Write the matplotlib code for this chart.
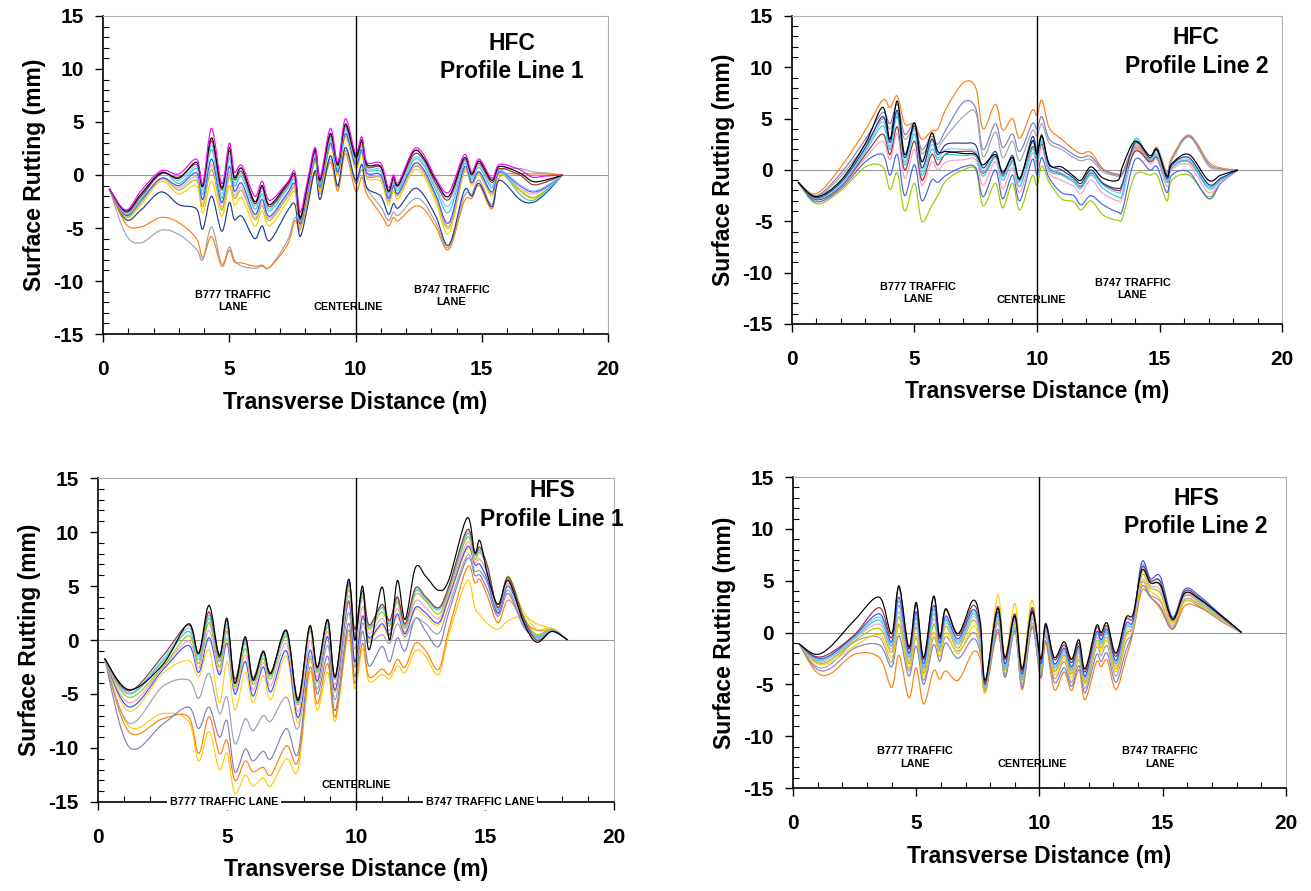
import numpy as np
import matplotlib.pyplot as plt
from matplotlib.path import Path
from matplotlib.patches import PathPatch
from matplotlib.ticker import MultipleLocator

plt.rcParams['font.family'] = ['Liberation Sans', 'DejaVu Sans']
plt.rcParams['font.weight'] = 'bold'
plt.rcParams['axes.unicode_minus'] = False

# ---------------- HFC Profile Line 1 ----------------
hfc1_x = [0.25, 0.9, 1.5, 2.3, 3.0, 3.7, 3.95, 4.3, 4.7, 5.0, 5.2, 5.5, 6.0, 6.3, 6.6,
          7.3, 7.6, 7.8, 8.1, 8.4, 8.6, 9.0, 9.3, 9.6, 10.0, 10.25, 10.45, 11.0, 11.3,
          11.5, 11.7, 12.3, 12.7, 13.2, 13.7, 14.3, 14.6, 14.9, 15.4, 15.7, 16.5, 17.0,
          17.5, 18.2]
hfc1_gray = [-1.3, -5.6, -6.4, -5.2, -5.6, -7.0, -8.0, -4.9, -8.4, -6.8, -8.0, -8.6, -8.8, -8.6, -8.7,
             -6.2, -4.0, -5.0, -2.2, 0.4, -1.5, 1.5, -1.2, 2.3, -0.8, 0.5, -1.3, -3.0, -4.3,
             -3.5, -3.8, -2.3, -2.6, -4.6, -6.8, -2.0, -1.8, -0.5, -2.8, 0.3, 0.6, 0.3, 0.2, 0.0]
hfc1_orange = [-1.3, -4.6, -4.9, -4.0, -4.5, -6.0, -7.8, -5.8, -8.6, -7.1, -8.2, -8.3, -8.6, -8.5, -8.7,
               -6.6, -4.3, -5.2, -2.5, 0.2, -1.8, 1.2, -1.5, 2.0, -1.5, -0.2, -1.8, -3.7, -4.8,
               -4.0, -4.3, -3.0, -3.2, -5.0, -7.0, -2.5, -2.2, -1.0, -3.2, -0.2, 0.1, 0.1, 0.1, 0.0]
hfc1_navy = [-1.3, -4.2, -3.3, -1.6, -2.8, -3.2, -5.1, -2.0, -5.3, -2.6, -4.2, -3.9, -6.0, -4.8, -6.2,
             -3.4, -2.8, -5.8, -3.0, 0.4, -2.3, 1.8, -1.0, 2.6, -0.5, 1.0, -1.2, -2.0, -3.7,
             -2.7, -3.1, -1.3, -1.9, -4.0, -6.6, -1.5, -2.0, -0.8, -3.0, -0.5, -2.3, -2.6, -1.8, 0.0]
hfc1_gold = [-1.3, -4.0, -2.8, -0.6, -1.8, -1.0, -3.6, -0.6, -3.9, -1.0, -2.8, -2.2, -4.8, -3.4, -4.8,
             -2.5, -1.6, -5.0, -2.0, 1.2, -1.5, 2.6, -0.1, 3.5, 0.6, 2.0, -0.3, -0.6, -2.8,
             -1.5, -2.2, 0.4, -0.1, -2.7, -5.5, 0.2, -1.0, 0.0, -2.0, 0.1, -1.5, -2.2, -1.6, 0.0]
hfc1_lime = [-1.3, -3.9, -2.6, -0.4, -1.4, -0.5, -3.0, 0.5, -3.3, -0.2, -2.2, -1.5, -4.2, -2.9, -4.3,
             -2.1, -1.3, -4.8, -1.8, 1.4, -1.3, 2.8, 0.1, 3.7, 0.8, 2.2, -0.1, -0.3, -2.5,
             -1.2, -1.9, 0.7, 0.2, -2.3, -5.0, 0.4, -0.8, 0.2, -1.8, 0.2, -1.4, -2.1, -1.5, 0.0]
hfc1_pink = [-1.3, -3.85, -2.5, -0.35, -1.2, -0.2, -2.7, 1.0, -3.0, 0.3, -1.9, -1.2, -4.0, -2.6, -4.1,
             -1.9, -1.1, -4.7, -1.7, 1.5, -1.2, 2.9, 0.2, 3.8, 0.9, 2.3, 0.0, -0.2, -2.4,
             -1.1, -1.8, 0.8, 0.3, -2.1, -4.8, 0.5, -0.8, 0.2, -1.7, 0.2, -1.2, -1.8, -1.3, 0.0]
hfc1_blue = [-1.3, -3.8, -2.4, -0.3, -1.0, 0.2, -2.3, 1.5, -2.6, 0.8, -1.5, -0.8, -3.7, -2.3, -3.9,
             -1.7, -0.9, -4.6, -1.6, 1.6, -1.1, 3.0, 0.3, 3.9, 1.0, 2.4, 0.2, 0.0, -2.2,
             -1.0, -1.7, 1.0, 0.5, -2.0, -4.5, 0.7, -0.7, 0.3, -1.6, 0.3, -1.0, -1.6, -1.2, 0.0]
hfc1_cyan = [-1.3, -3.7, -2.3, 0.3, -0.8, 0.6, -1.8, 2.4, -2.2, 1.6, -1.0, -0.2, -3.2, -1.8, -3.4,
             -1.3, -0.6, -4.4, -1.3, 1.8, -0.9, 3.3, 0.6, 4.2, 1.3, 2.7, 0.5, 0.3, -2.0,
             -0.8, -1.4, 1.4, 0.9, -1.5, -3.5, 1.0, -0.4, 0.7, -1.2, 0.5, -1.8, -2.4, -1.6, 0.0]
hfc1_lightblue = [-1.3, -3.6, -2.1, 0.2, -0.5, 0.8, -1.4, 2.8, -1.8, 2.0, -0.7, 0.1, -2.9, -1.5, -3.2,
                  -1.1, -0.4, -4.3, -1.1, 2.0, -0.7, 3.5, 0.7, 4.4, 1.4, 2.9, 0.6, 0.5, -1.8,
                  -0.6, -1.2, 1.6, 1.1, -1.2, -2.9, 1.2, -0.2, 0.9, -1.0, 0.5, -0.9, -1.5, -1.1, 0.0]
hfc1_red = [-1.3, -3.5, -2.0, 0.1, -0.2, 1.0, -1.1, 3.2, -1.4, 2.3, -0.4, 0.3, -2.7, -1.2, -3.0,
            -1.0, -0.2, -4.2, -1.0, 2.2, -0.6, 3.7, 0.9, 4.6, 1.6, 3.1, 0.8, 0.7, -1.6,
            -0.4, -1.0, 1.9, 1.4, -0.9, -2.3, 1.4, 0.0, 1.1, -0.7, 0.6, 0.0, -0.9, -0.7, 0.0]
hfc1_black = [-1.3, -3.4, -1.8, 0.2, -0.3, 1.2, -1.0, 3.5, -1.2, 2.6, -0.2, 0.6, -2.5, -1.0, -2.8,
              -0.8, 0.0, -4.0, -0.8, 2.4, -0.4, 3.9, 1.0, 4.8, 1.8, 3.3, 1.0, 0.8, -1.5,
              -0.2, -0.9, 2.2, 1.6, -0.6, -2.0, 1.6, 0.1, 1.3, -0.5, 0.8, 0.2, -0.6, -0.5, 0.0]
hfc1_magenta = [-1.3, -3.3, -1.5, 0.4, 0.1, 1.5, -0.8, 4.4, -0.8, 3.0, 0.3, 0.9, -2.0, -0.6, -2.4,
                -0.7, 0.3, -3.5, -0.5, 2.6, -0.2, 4.4, 1.2, 5.3, 2.1, 3.6, 1.2, 1.1, -1.2,
                0.0, -0.7, 2.4, 1.9, -0.4, -1.6, 1.9, 0.3, 1.5, -0.3, 1.0, 0.5, -0.2, -0.1, 0.0]

# ---------------- HFC Profile Line 2 ----------------
hfc2_x = [0.25, 1.0, 2.0, 3.0, 3.7, 4.0, 4.3, 4.6, 5.0, 5.3, 5.7, 5.95, 6.3, 7.0, 7.5, 7.8,
          8.3, 8.6, 9.0, 9.3, 9.8, 10.0, 10.2, 10.5, 11.0, 11.5, 11.8, 12.2, 12.7, 13.3,
          13.5, 14.0, 14.6, 14.9, 15.3, 15.5, 16.2, 17.0, 17.5, 18.2]
hfc2_orange = [-1.2, -2.3, 0.3, 3.9, 6.8, 6.1, 7.2, 4.5, 4.5, 3.0, 3.8, 4.0, 6.0, 8.5, 8.0, 4.0,
               6.4, 3.9, 5.0, 3.1, 5.8, 5.3, 6.8, 4.1, 3.0, 2.0, 1.6, 1.7, 0.1, -0.4,
               -0.2, 2.4, 1.2, 2.2, -0.2, 1.2, 3.4, 0.8, 0.2, 0.0]
hfc2_slate = [-1.2, -2.5, -0.3, 3.0, 5.6, 4.5, 6.4, 3.5, 4.5, 2.0, 3.3, 2.5, 4.0, 6.6, 6.0, 2.0,
              4.5, 2.2, 3.5, 1.8, 4.5, 4.0, 5.2, 3.0, 2.3, 1.5, 1.2, 1.3, 0.0, -0.5,
              -0.3, 2.2, 1.0, 2.0, -0.4, 1.0, 3.3, 0.6, 0.1, 0.0]
hfc2_gray = [-1.2, -2.6, -0.6, 2.5, 5.0, 4.0, 5.5, 3.0, 4.0, 1.6, 2.8, 2.2, 3.3, 5.2, 5.6, 1.3,
             3.7, 1.2, 2.8, 0.9, 3.8, 3.3, 4.5, 2.6, 2.0, 1.2, 0.9, 1.0, -0.2, -0.6,
             -0.4, 2.0, 0.9, 1.9, -0.5, 0.9, 3.2, 0.4, 0.1, 0.0]
hfc2_lime = [-1.2, -3.3, -2.0, 0.3, 0.3, -1.9, -0.3, -4.0, -1.3, -5.0, -3.5, -2.5, -1.0, 0.0, 0.0, -3.5,
             -1.3, -3.7, -1.3, -3.9, -0.6, -1.5, 0.4, -1.2, -2.8, -3.1, -3.9, -3.0, -4.4, -4.9,
             -4.6, -0.5, -0.5, -0.5, -3.0, -1.0, -0.5, -2.6, -1.2, 0.0]
hfc2_royal = [-1.2, -3.1, -1.8, 0.8, 1.5, -0.5, 1.5, -2.5, 0.5, -3.0, -1.0, -1.2, -0.5, 0.3, 0.2, -2.6,
              0.0, -2.8, -0.5, -3.0, 1.0, -0.5, 1.2, -0.8, -2.2, -2.5, -3.4, -2.5, -3.4, -4.1,
              -3.8, 1.0, 0.0, 0.3, -2.2, -0.5, -0.2, -2.8, -1.3, 0.0]
hfc2_pink = [-1.2, -2.9, -1.7, 1.2, 2.8, 1.0, 3.5, -0.8, 2.0, -1.5, 0.8, 0.0, 0.8, 1.0, 1.0, -1.5,
             0.8, -1.8, 0.2, -2.2, 1.6, 0.4, 2.2, -0.3, -1.0, -1.6, -2.3, -1.0, -2.3, -3.0,
             -2.6, 2.0, 0.6, 1.0, -1.6, 0.0, 0.5, -2.2, -1.2, 0.0]
hfc2_red = [-1.2, -2.9, -1.6, 1.5, 3.5, 1.5, 4.2, 0.0, 2.8, -1.0, 1.5, 0.5, 1.6, 1.8, 1.6, -0.3,
            1.3, -0.6, 0.9, -1.0, 2.2, 1.2, 2.5, 0.2, -0.4, -1.0, -1.6, -0.3, -1.4, -2.0,
            -1.5, 1.8, 0.8, 1.2, -1.0, 0.3, 0.8, -1.6, -0.9, 0.0]
hfc2_teal = [-1.2, -2.8, -1.5, 1.8, 4.3, 2.0, 5.2, 0.5, 3.5, -0.5, 2.0, 1.0, 1.5, 1.4, 1.3, -0.6,
             1.2, -1.0, 0.7, -1.6, 2.0, 0.8, 2.8, 0.0, -0.5, -1.2, -1.8, -0.5, -1.8, -2.6,
             -2.2, 3.0, 1.0, 1.4, -1.2, 0.2, 0.8, -1.8, -1.0, 0.0]
hfc2_lightblue = [-1.2, -2.75, -1.4, 2.0, 4.7, 2.3, 5.5, 0.8, 3.9, -0.2, 2.5, 1.2, 2.0, 2.0, 1.8, -0.2,
                  1.5, -0.7, 1.0, -1.2, 2.6, 1.3, 3.1, 0.3, -0.3, -1.0, -1.5, -0.2, -1.5, -2.2,
                  -1.7, 2.8, 1.1, 1.6, -1.0, 0.3, 1.0, -1.6, -0.9, 0.0]
hfc2_blue = [-1.2, -2.7, -1.2, 2.2, 5.2, 2.7, 5.8, 1.2, 4.3, 0.2, 3.0, 1.5, 2.5, 2.6, 2.4, 0.2,
             1.8, -0.4, 1.4, -0.9, 3.2, 1.8, 3.4, 0.6, 0.0, -0.8, -1.3, 0.0, -1.3, -1.8,
             -1.2, 2.6, 1.2, 1.9, -0.8, 0.5, 1.2, -1.4, -0.8, 0.0]
hfc2_black = [-1.2, -2.6, -1.0, 2.6, 6.1, 3.0, 6.7, 1.5, 4.6, 0.8, 3.6, 1.8, 1.8, 1.6, 1.5, 0.5,
              1.5, -0.2, 1.2, -0.8, 2.8, 1.5, 3.3, 0.5, 0.3, -0.6, -1.0, 0.3, -0.8, -1.0,
              0.4, 2.8, 1.4, 2.0, -0.6, 0.6, 1.5, -1.0, -0.5, 0.0]

# ---------------- HFS Profile Line 1 ----------------
hfs1_x = [0.25, 1.2, 2.5, 3.5, 3.9, 4.3, 4.7, 5.0, 5.3, 5.7, 6.0, 6.4, 6.7, 7.3, 7.75, 8.2,
          8.5, 8.9, 9.2, 9.7, 9.95, 10.25, 10.5, 11.0, 11.3, 11.6, 11.9, 12.3, 12.7, 13.2,
          13.6, 14.3, 14.6, 14.8, 15.1, 15.5, 15.9, 16.5, 17.0, 17.6, 18.2]
hfs1_gold = [-1.7, -8.0, -6.8, -7.5, -11.2, -8.5, -12.0, -10.5, -14.2, -12.5, -13.5, -12.8, -13.5, -11.0, -12.0, -3.0,
             -6.5, -3.0, -7.5, 0.5, -4.5, -0.8, -3.8, -3.2, -3.6, -2.4, -3.0, -1.0, -1.5, -3.2,
             0.5, 5.5, 3.0, 2.3, 1.5, 1.0, 1.8, 2.2, 1.5, 1.0, 0.0]
hfs1_orange = [-1.7, -8.5, -7.3, -7.1, -10.5, -7.1, -10.5, -9.3, -13.0, -11.2, -12.2, -11.8, -12.5, -9.8, -11.2, -2.6,
               -5.9, -2.2, -7.1, 0.9, -4.0, -0.3, -3.4, -2.7, -3.2, -1.8, -2.5, -0.3, -1.0, -2.7,
               1.0, 6.7, 5.3, 5.6, 4.0, 1.6, 3.7, 1.8, 0.9, 0.9, 0.0]
hfs1_slate = [-1.7, -9.9, -7.8, -6.2, -8.2, -6.2, -9.0, -7.5, -12.2, -10.1, -11.2, -10.3, -11.0, -8.2, -10.5, -1.6,
              -5.0, -1.5, -6.5, 1.5, -3.4, 0.8, -2.4, -0.6, -2.0, 0.2, -1.0, 2.0, 0.8, -0.6,
              2.6, 7.5, 6.0, 6.0, 4.6, 2.2, 4.3, 1.2, 0.3, 0.8, 0.0]
hfs1_gray = [-1.7, -7.7, -4.3, -3.7, -5.4, -3.1, -6.8, -5.3, -9.6, -7.3, -8.4, -7.0, -7.5, -5.3, -8.2, -1.8,
             -4.5, -0.5, -5.5, 2.5, -2.5, 1.5, -0.2, 0.5, -0.3, 1.5, 0.3, 2.0, 1.5, 0.6,
             3.2, 7.8, 6.4, 6.4, 5.2, 2.4, 4.6, 1.4, 0.5, 0.9, 0.0]
hfs1_yellow = [-1.7, -6.6, -3.1, -1.9, -3.4, -0.9, -5.8, -2.0, -6.5, -3.0, -5.8, -3.3, -5.5, -1.5, -7.7, -1.5,
               -4.0, 0.3, -4.8, 3.4, -2.2, 2.0, 0.0, 1.3, 0.3, 2.2, 0.5, 2.8, 2.2, 1.4,
               3.8, 8.4, 7.2, 7.4, 6.2, 3.0, 5.2, 2.6, 1.0, 1.1, 0.0]
hfs1_blue = [-1.7, -6.2, -2.8, -0.5, -3.0, 0.2, -3.2, -0.3, -5.0, -2.0, -5.2, -2.5, -4.8, -1.0, -7.2, -1.0,
             -3.8, 0.3, -4.6, 3.6, -2.0, 2.2, 0.2, 1.5, 0.5, 2.4, 0.6, 3.0, 2.5, 1.6,
             4.0, 8.6, 7.0, 7.0, 5.5, 2.5, 5.0, 1.8, 0.2, 0.9, 0.0]
hfs1_pink = [-1.7, -5.8, -2.6, -0.1, -2.6, 0.9, -2.9, 0.2, -4.6, -1.4, -4.6, -2.1, -4.2, -0.3, -6.6, -0.1,
             -3.4, 0.8, -4.1, 4.1, -0.8, 3.1, 0.6, 2.0, 0.9, 2.9, 0.8, 3.6, 3.0, 2.0,
             4.3, 9.0, 7.2, 7.5, 6.0, 2.7, 5.3, 2.0, 0.4, 1.0, 0.0]
hfs1_lime = [-1.7, -5.3, -2.5, 0.4, -2.2, 1.6, -2.5, 0.8, -4.3, -0.8, -4.1, -1.7, -3.6, 0.3, -6.0, 0.8,
             -3.0, 1.2, -3.6, 4.6, 0.3, 4.0, 1.0, 2.6, 1.3, 3.5, 1.1, 4.2, 3.6, 2.4,
             4.6, 9.5, 7.5, 8.1, 6.6, 3.0, 5.9, 2.2, 0.5, 1.0, 0.0]
hfs1_teal = [-1.7, -5.0, -2.0, 0.8, -1.8, 2.0, -2.0, 1.2, -4.0, -0.3, -3.8, -1.4, -3.3, 0.5, -5.8, 1.0,
             -2.8, 1.5, -3.5, 5.0, 0.6, 4.3, 1.2, 3.0, 1.5, 3.8, 1.3, 4.5, 3.8, 2.8,
             4.8, 9.8, 7.8, 8.3, 6.5, 2.8, 5.6, 2.0, 0.3, 0.9, 0.0]
hfs1_lightblue = [-1.7, -4.9, -1.8, 1.1, -1.5, 2.3, -1.8, 1.5, -3.8, -0.1, -3.6, -1.2, -3.1, 0.6, -5.6, 1.1,
                  -2.7, 1.6, -3.4, 5.1, 0.8, 4.4, 1.3, 3.1, 1.6, 3.9, 1.4, 4.6, 3.9, 2.9,
                  4.9, 10.0, 7.9, 8.4, 6.6, 2.9, 5.7, 2.0, 0.2, 0.9, 0.0]
hfs1_red = [-1.7, -4.7, -1.5, 1.4, -1.3, 2.6, -1.6, 1.8, -3.6, 0.1, -3.5, -1.0, -3.0, 0.8, -5.4, 1.2,
            -2.6, 1.8, -3.3, 5.3, 1.0, 4.6, 1.4, 3.3, 1.8, 4.0, 1.5, 4.8, 4.0, 3.0,
            5.0, 10.2, 8.0, 8.6, 6.8, 3.0, 5.8, 2.0, 0.0, 0.8, 0.0]
hfs1_black = [-1.7, -4.6, -2.3, 1.5, -1.2, 3.2, -1.4, 2.0, -4.0, 0.3, -3.7, -1.1, -3.1, 0.9, -5.6, 1.3,
              -2.5, 1.9, -3.4, 5.6, 0.0, 5.0, -0.9, 4.9, 0.0, 5.5, 1.9, 6.7, 5.9, 4.6,
              5.6, 11.3, 8.1, 9.2, 6.0, 3.3, 5.5, 1.6, -0.2, 0.8, 0.0]

# ---------------- HFS Profile Line 2 ----------------
hfs2_x = [0.25, 0.9, 1.5, 2.5, 3.5, 4.0, 4.3, 4.7, 5.0, 5.3, 5.7, 5.95, 6.2, 6.7, 7.3, 7.6,
          7.8, 8.3, 8.6, 9.0, 9.3, 9.7, 10.05, 10.25, 10.6, 11.0, 11.3, 11.6, 11.85, 12.3,
          12.5, 12.75, 13.1, 13.5, 13.8, 14.15, 14.5, 14.9, 15.4, 15.9, 16.5, 17.5, 18.2]
hfs2_orange = [-1.1, -3.7, -4.0, -2.1, -2.4, -5.3, -2.2, -6.3, -3.4, -6.9, -3.7, -4.5, -3.7, -4.6, -1.9, -2.6,
               -5.8, 0.0, -4.3, 0.2, -5.5, 0.6, -4.4, -1.0, -5.5, -3.8, -5.6, -3.6, -6.5, -2.9,
               -3.3, -2.7, -5.5, -2.5, 0.0, 4.0, 3.4, 2.3, 0.3, 2.6, 2.4, 1.0, 0.0]
hfs2_slate = [-1.1, -3.4, -3.5, -1.5, -1.2, -3.3, -0.3, -4.2, -1.3, -5.0, -1.2, -2.8, -1.0, -2.5, -0.6, -2.0,
              -5.6, 0.3, -4.3, 0.2, -5.3, 0.5, -4.3, -0.8, -4.8, -3.4, -5.2, -3.2, -5.8, -2.2,
              -2.8, -2.0, -4.8, -1.8, 0.2, 4.4, 3.4, 2.5, 0.4, 3.0, 2.5, 0.9, 0.0]
hfs2_gray = [-1.1, -3.2, -3.1, -0.9, -0.5, -2.9, 0.8, -3.7, -0.5, -4.6, -0.5, -2.3, -0.4, -1.8, 0.0, -1.5,
             -5.4, 0.9, -4.0, 0.5, -5.0, 0.9, -4.0, -0.4, -4.4, -2.8, -4.8, -2.6, -5.4, -1.5,
             -2.2, -1.3, -4.2, -1.0, 0.2, 4.8, 3.6, 3.0, 0.6, 3.2, 2.7, 1.0, 0.0]
hfs2_gold = [-1.1, -2.9, -2.9, -1.3, -0.2, -2.4, 0.6, -3.4, -0.3, -4.2, 0.0, -2.3, 0.0, -2.0, 0.6, -1.2,
             -5.8, 3.6, -2.3, 2.8, -3.3, 3.1, -3.5, 0.0, -4.0, -2.5, -4.3, -2.3, -5.0, -1.2,
             -1.8, -0.8, -3.8, -0.5, 0.4, 5.0, 4.0, 3.2, 0.8, 3.0, 2.6, 1.0, 0.0]
hfs2_lime = [-1.1, -2.8, -2.7, -0.8, 0.4, -1.9, 1.5, -3.0, 0.5, -3.9, 0.8, -1.8, 0.6, -1.5, 1.2, -0.8,
             -5.5, 1.2, -3.6, 0.8, -4.6, 1.3, -3.6, 0.0, -3.7, -2.2, -4.0, -2.0, -4.8, -0.9,
             -1.5, -0.5, -3.5, -0.2, 0.6, 5.5, 4.3, 3.8, 1.0, 3.5, 2.9, 1.1, 0.0]
hfs2_pink = [-1.1, -2.7, -2.6, -0.6, 0.8, -1.6, 2.0, -2.7, 0.9, -3.6, 1.3, -1.6, 0.9, -1.2, 1.5, -0.5,
             -5.3, 1.4, -3.4, 1.0, -4.4, 1.5, -3.4, 0.1, -3.5, -2.0, -3.8, -1.8, -4.6, -0.6,
             -1.2, -0.2, -3.2, 0.1, 0.7, 5.8, 4.5, 4.1, 1.1, 3.6, 3.0, 1.1, 0.0]
hfs2_teal = [-1.1, -2.6, -2.4, -0.5, 1.2, -1.3, 2.6, -2.4, 1.4, -3.4, 1.8, -1.4, 1.2, -1.0, 1.8, -0.2,
             -5.2, 1.6, -3.3, 1.2, -4.3, 1.8, -3.3, 0.3, -3.3, -1.8, -3.6, -1.6, -4.4, -0.3,
             -1.0, 0.0, -3.0, 0.4, 0.9, 6.2, 4.8, 4.5, 1.3, 3.8, 3.1, 1.2, 0.0]
hfs2_lightblue = [-1.1, -2.5, -2.3, -0.4, 1.5, -1.1, 3.0, -2.2, 1.7, -3.2, 2.2, -1.2, 1.4, -0.8, 2.0, 0.0,
                  -5.1, 1.8, -3.1, 1.3, -4.1, 2.0, -3.1, 0.4, -3.1, -1.6, -3.4, -1.4, -4.3, -0.1,
                  -0.8, 0.1, -2.8, 0.6, 1.0, 6.5, 5.0, 5.0, 1.4, 4.0, 3.3, 1.3, 0.0]
hfs2_blue = [-1.1, -2.4, -2.2, -0.3, 1.8, -0.9, 3.4, -2.0, 2.0, -3.0, 2.6, -1.0, 1.6, -0.6, 2.2, 0.2,
             -5.0, 2.0, -3.0, 1.5, -4.0, 2.2, -3.0, 0.6, -3.0, -1.5, -3.3, -1.3, -4.2, 0.0,
             -0.7, 0.3, -2.7, 0.8, 1.2, 6.8, 5.2, 5.4, 1.5, 4.2, 3.5, 1.4, 0.0]
hfs2_red = [-1.1, -2.3, -2.0, -0.2, 2.4, -0.5, 4.3, -1.6, 2.7, -2.6, 3.4, -0.6, 2.2, -0.3, 2.6, 0.6,
            -4.8, 2.5, -2.6, 1.8, -3.7, 2.4, -2.7, 0.9, -2.6, -1.2, -2.9, -1.0, -3.8, 0.4,
            -0.3, 0.6, -2.3, 1.2, 1.5, 6.3, 5.0, 4.9, 1.2, 4.0, 3.3, 1.3, 0.0]
hfs2_black = [-1.1, -2.1, -1.4, 1.2, 3.4, -0.1, 4.5, -1.4, 2.9, -2.4, 3.5, -0.4, 2.3, -0.1, 3.1, 1.0,
              -4.6, 2.3, -2.4, 1.6, -3.5, 2.0, -2.5, 0.8, -2.4, -0.9, -2.6, -0.7, -3.5, 0.6,
              0.0, 0.9, -2.0, 1.4, 1.8, 6.0, 4.8, 4.6, 1.3, 3.8, 3.2, 1.4, 0.0]

C = {'magenta': '#ff00ff', 'black': '#000000', 'red': '#993333', 'cyan': '#33cccc',
     'blue': '#3355ff', 'lime': '#99cc00', 'gold': '#ffcc00', 'navy': '#1f3f8f',
     'orange': '#ff7f0e', 'gray': '#a0a0b4', 'slate': '#8080c0', 'teal': '#2aa198',
     'royal': '#4169e1', 'pink': '#ff99cc', 'yellow': '#ffd21f', 'lightblue': '#80c8ff'}

panels = [
    dict(x=hfc1_x, curves=[(hfc1_gray, 'gray'), (hfc1_orange, 'orange'), (hfc1_navy, 'navy'),
                           (hfc1_gold, 'gold'), (hfc1_lime, 'lime'), (hfc1_pink, 'pink'),
                           (hfc1_blue, 'blue'), (hfc1_cyan, 'cyan'), (hfc1_lightblue, 'lightblue'),
                           (hfc1_red, 'red'), (hfc1_black, 'black'), (hfc1_magenta, 'magenta')],
         rect=[0.0786, 0.6251, 0.3852, 0.357], title='HFC\nProfile Line 1', title_xy=(16.2, 11.1),
         notes=[('B777 TRAFFIC\nLANE', 5.15, -11.9), ('CENTERLINE', 9.7, -12.45),
                ('B747 TRAFFIC\nLANE', 13.8, -11.4)], axis_notes=[]),
    dict(x=hfc2_x, curves=[(hfc2_orange, 'orange'), (hfc2_slate, 'slate'), (hfc2_gray, 'gray'),
                           (hfc2_lime, 'lime'), (hfc2_royal, 'royal'), (hfc2_pink, 'pink'),
                           (hfc2_red, 'red'), (hfc2_teal, 'cyan'), (hfc2_lightblue, 'lightblue'),
                           (hfc2_blue, 'navy'), (hfc2_black, 'black')],
         rect=[0.6041, 0.6364, 0.3738, 0.3457], title='HFC\nProfile Line 2', title_xy=(16.5, 11.5),
         notes=[('B777 TRAFFIC\nLANE', 5.15, -12.0), ('CENTERLINE', 9.75, -12.65),
                ('B747 TRAFFIC\nLANE', 13.9, -11.6)], axis_notes=[]),
    dict(x=hfs1_x, curves=[(hfs1_gold, 'gold'), (hfs1_orange, 'orange'), (hfs1_slate, 'slate'),
                           (hfs1_gray, 'gray'), (hfs1_yellow, 'yellow'), (hfs1_blue, 'blue'),
                           (hfs1_pink, 'pink'), (hfs1_lime, 'lime'), (hfs1_teal, 'cyan'),
                           (hfs1_lightblue, 'lightblue'), (hfs1_red, 'red'), (hfs1_black, 'black')],
         rect=[0.0748, 0.0999, 0.3936, 0.3636], title='HFS\nProfile Line 1', title_xy=(17.6, 12.5),
         notes=[('CENTERLINE', 10.0, -13.4)],
         axis_notes=[('B777 TRAFFIC LANE', 4.9), ('B747 TRAFFIC LANE', 14.8)]),
    dict(x=hfs2_x, curves=[(hfs2_orange, 'orange'), (hfs2_slate, 'slate'), (hfs2_gray, 'gray'),
                           (hfs2_gold, 'gold'), (hfs2_lime, 'lime'), (hfs2_pink, 'pink'),
                           (hfs2_teal, 'cyan'), (hfs2_lightblue, 'lightblue'), (hfs2_blue, 'blue'),
                           (hfs2_red, 'red'), (hfs2_black, 'black')],
         rect=[0.6049, 0.1156, 0.376, 0.349], title='HFS\nProfile Line 2', title_xy=(16.35, 11.6),
         notes=[('B777 TRAFFIC\nLANE', 4.95, -12.05), ('CENTERLINE', 9.7, -12.7),
                ('B747 TRAFFIC\nLANE', 14.9, -12.05)], axis_notes=[]),
]


def smooth_line(ax, x, y, color):
    # Excel-style smoothed line: cubic Bezier segments through the data points
    pts = np.column_stack([x, y]).astype(float)
    n = len(pts)
    verts = [pts[0]]
    codes = [Path.MOVETO]
    for i in range(n - 1):
        p0 = pts[i - 1] if i > 0 else pts[i]
        p1, p2 = pts[i], pts[i + 1]
        p3 = pts[i + 2] if i + 2 < n else pts[i + 1]
        verts += [p1 + (p2 - p0) / 6.0, p2 - (p3 - p1) / 6.0, p2]
        codes += [Path.CURVE4] * 3
    ax.add_patch(PathPatch(Path(verts, codes), facecolor='none', edgecolor=color,
                           lw=0.85, zorder=2))


fig = plt.figure(figsize=(13.11, 8.91), dpi=100)

for p in panels:
    ax = fig.add_axes(p['rect'])
    for vals, cname in p['curves']:
        smooth_line(ax, p['x'], vals, C[cname])
    ax.axhline(0, color='#999999', lw=0.8, zorder=1)
    ax.axvline(10, color='black', lw=1.0, zorder=3)

    ax.set_xlim(0, 20)
    ax.set_ylim(-15, 15)
    ax.xaxis.set_major_locator(MultipleLocator(5))
    ax.xaxis.set_minor_locator(MultipleLocator(1))
    ax.yaxis.set_major_locator(MultipleLocator(5))
    ax.yaxis.set_minor_locator(MultipleLocator(1))
    ax.tick_params(which='major', direction='out', length=6, width=1, labelsize=15)
    ax.tick_params(axis='x', which='major', pad=13)
    ax.tick_params(axis='y', which='major', pad=8)
    ax.tick_params(which='minor', direction='in', length=4, width=0.8)
    for lab in ax.get_xticklabels() + ax.get_yticklabels():
        lab.set_fontweight('bold')

    for side in ['top', 'right']:
        ax.spines[side].set_color('#b0b0b0')
    for side in ['left', 'bottom']:
        ax.spines[side].set_linewidth(1.2)

    ax.set_xlabel('Transverse Distance (m)', fontsize=16.5, fontweight='bold', labelpad=8)
    ax.set_ylabel('Surface Rutting (mm)', fontsize=16.5, fontweight='bold', labelpad=5)

    ax.text(p['title_xy'][0], p['title_xy'][1], p['title'], ha='center', va='center',
            fontsize=16.5, fontweight='bold', linespacing=1.3)
    for txt, tx, ty in p['notes']:
        ax.text(tx, ty, txt, ha='center', va='center', fontsize=7.8, fontweight='bold',
                linespacing=1.3, zorder=4)
    for txt, tx in p['axis_notes']:
        ax.text(tx, -15, txt, ha='center', va='center', fontsize=7.8, fontweight='bold',
                zorder=5, clip_on=False,
                bbox=dict(facecolor='white', edgecolor='none', pad=2))

fig.savefig('out.png', dpi=100)
